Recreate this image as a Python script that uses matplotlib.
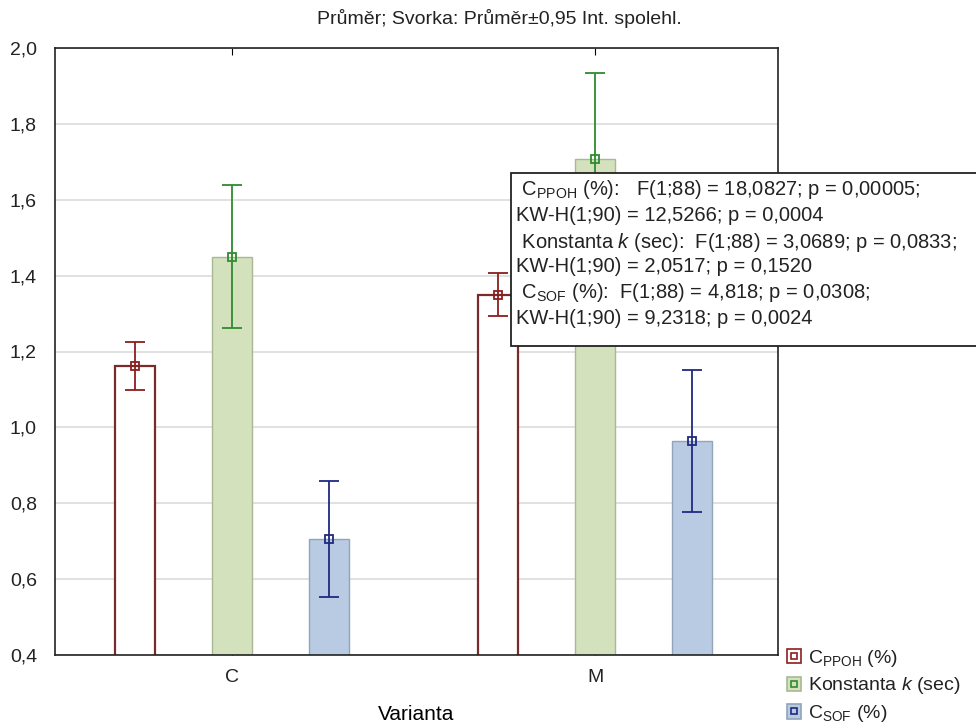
import matplotlib
matplotlib.use('Agg')
import matplotlib.pyplot as plt
from matplotlib import font_manager
from matplotlib.patches import Rectangle, Patch
from matplotlib.lines import Line2D
from matplotlib.ticker import FuncFormatter, MultipleLocator
from matplotlib.legend_handler import HandlerTuple

# data
categories = ['C', 'M']
means_ppoh = [1.162, 1.350]
ci_ppoh = [0.064, 0.057]
means_k = [1.450, 1.707]
ci_k = [0.188, 0.226]
means_sof = [0.705, 0.965]
ci_sof = [0.153, 0.187]

stats_lines = [
    r' C$_{\mathrm{PPOH}}$ (%):   F(1;88) = 18,0827; p = 0,00005;',
    'KW-H(1;90) = 12,5266; p = 0,0004',
    r' Konstanta $\mathit{k}$ (sec):  F(1;88) = 3,0689; p = 0,0833;',
    'KW-H(1;90) = 2,0517; p = 0,1520',
    r' C$_{\mathrm{SOF}}$ (%):  F(1;88) = 4,818; p = 0,0308;',
    'KW-H(1;90) = 9,2318; p = 0,0024',
]

names = [f.name for f in font_manager.fontManager.ttflist]
font = 'Liberation Sans Narrow' if 'Liberation Sans Narrow' in names else 'Liberation Sans'
plt.rcParams['font.family'] = [font, 'DejaVu Sans']
plt.rcParams['mathtext.fontset'] = 'custom'
plt.rcParams['mathtext.rm'] = font
plt.rcParams['mathtext.it'] = font + ':italic'
plt.rcParams['text.color'] = '#222222'
plt.rcParams['xtick.labelcolor'] = '#222222'
plt.rcParams['ytick.labelcolor'] = '#222222'

fig = plt.figure(figsize=(9.76, 7.24), dpi=100)
ax = fig.add_axes([55 / 976, 69 / 724, 723 / 976, 607 / 724])

x = list(range(len(categories)))
off = 0.267
w = 0.11

series = [
    (means_ppoh, ci_ppoh, 'white', '#7a2a2a', '#8b1f1f', -off),
    (means_k, ci_k, '#d3e1bc', '#a9b894', '#2e8b2e', 0.0),
    (means_sof, ci_sof, '#b8cbe3', '#92a3ba', '#1f2a80', off),
]
for m, ci, fc, ec, lc, o in series:
    xs = [xi + o for xi in x]
    lw = 1.6 if fc == 'white' else 1.0
    ax.bar(xs, m, width=w, color=fc, edgecolor=ec, linewidth=lw, zorder=2)
    ax.errorbar(xs, m, yerr=ci, fmt='s', color=lc, mfc='none', mec=lc,
                ms=6, mew=1.3, elinewidth=1.3, capsize=7, capthick=1.3, zorder=3)

ax.set_xlim(-0.488, 1.504)
ax.set_ylim(0.4, 2.0)
ax.yaxis.set_major_locator(MultipleLocator(0.2))
ax.yaxis.set_major_formatter(FuncFormatter(lambda v, p: f'{v:.1f}'.replace('.', ',')))
ax.set_xticks(x)
ax.set_xticklabels(categories)
ax.tick_params(axis='x', direction='in', top=True, length=5, labelsize=14, pad=10)
ax.tick_params(axis='y', direction='out', length=0, labelsize=14, pad=13)
ax.grid(axis='y', color='#dcdcdc', linewidth=1.2, zorder=0)
ax.set_axisbelow(True)
for s in ax.spines.values():
    s.set_color('#222222')
    s.set_linewidth(1.2)
ax.set_xlabel('Varianta', fontsize=15, labelpad=14)

fig.text(0.512, 1 - 19 / 724, 'Průměr; Svorka: Průměr±0,95 Int. spolehl.',
         ha='center', va='center', fontsize=14)

# statistics box
fig.add_artist(Rectangle((511 / 976, 1 - 346 / 724), 480 / 976, 173 / 724,
                         transform=fig.transFigure, facecolor='white',
                         edgecolor='#222222', linewidth=1.3, zorder=5))
baselines = [195, 221, 248, 272, 298, 324]
for txt, b in zip(stats_lines, baselines):
    fig.text(516 / 976, 1 - b / 724, txt, ha='left', va='baseline',
             fontsize=14.5, zorder=6)

# legend
handles = []
for m, ci, fc, ec, lc, o in series:
    p = Patch(facecolor=fc, edgecolor=ec if fc != 'white' else lc, linewidth=1.2)
    mk = Line2D([], [], marker='s', linestyle='none', mfc='none', mec=lc, ms=5, mew=1.2)
    handles.append((p, mk))
labels = [r'C$_{\mathrm{PPOH}}$ (%)', r'Konstanta $\mathit{k}$ (sec)', r'C$_{\mathrm{SOF}}$ (%)']
fig.legend(handles, labels, handler_map={tuple: HandlerTuple(ndivide=1, pad=0)},
           loc='upper left', bbox_to_anchor=(775 / 976, 1 - 636 / 724),
           frameon=False, fontsize=14, handlelength=0.75, handleheight=0.75,
           handletextpad=0.35, labelspacing=0.35, borderpad=0.1)

fig.savefig('out.png', dpi=100)
